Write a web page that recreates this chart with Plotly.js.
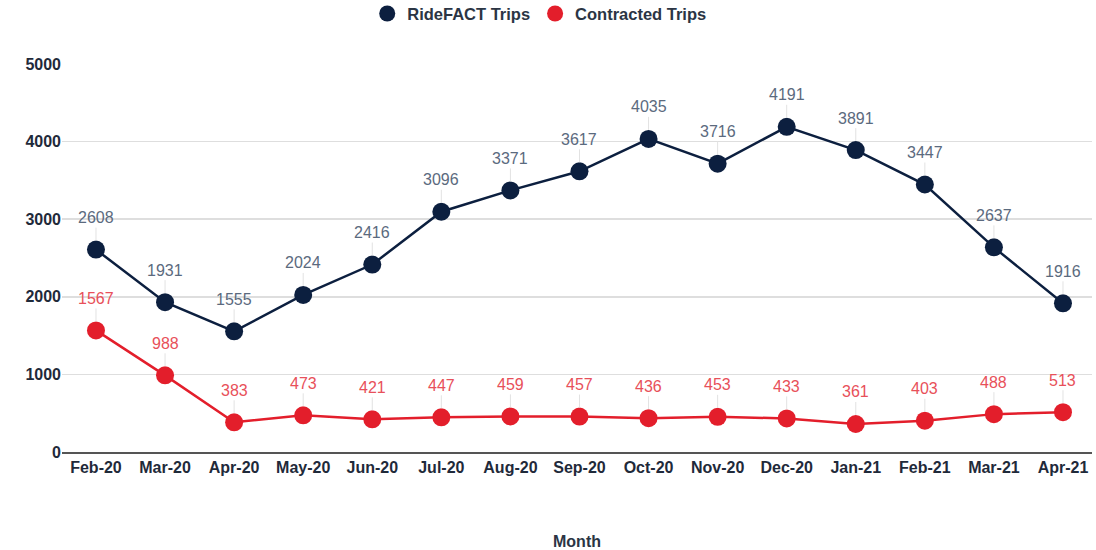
<!DOCTYPE html>
<html>
<head>
<meta charset="utf-8">
<script src="https://cdn.plot.ly/plotly-3.0.1.min.js"></script>
<style>html,body{margin:0;padding:0;background:#fff;}#chart{width:1096px;height:550px;}</style>
</head>
<body>
<div id="chart"></div>
<script>
const months = ["Feb-20","Mar-20","Apr-20","May-20","Jun-20","Jul-20","Aug-20","Sep-20","Oct-20","Nov-20","Dec-20","Jan-21","Feb-21","Mar-21","Apr-21"];
const rideFact = [2608,1931,1555,2024,2416,3096,3371,3617,4035,3716,4191,3891,3447,2637,1916];
const contracted = [1567,988,383,473,421,447,459,457,436,453,433,361,403,488,513];
const seriesNames = ["RideFACT Trips", "Contracted Trips"];
const yTicks = [0,1000,2000,3000,4000,5000];

const navy = "#0c1f3f";
const red = "#e31e2b";
const FONT = "Liberation Sans, Arial, sans-serif";

const traces = [
  {x: months, y: rideFact, name: seriesNames[0], type: "scatter", mode: "lines+markers", showlegend: false,
   line: {color: navy, width: 2.5}, marker: {color: navy, size: 18}},
  {x: months, y: contracted, name: seriesNames[1], type: "scatter", mode: "lines+markers", showlegend: false,
   line: {color: red, width: 2.5}, marker: {color: red, size: 18}},
  // legend-only entries (circle symbol only)
  {x: [null], y: [null], name: seriesNames[0], type: "scatter", mode: "markers",
   marker: {color: navy, size: 18}},
  {x: [null], y: [null], name: seriesNames[1], type: "scatter", mode: "markers",
   marker: {color: red, size: 18}}
];

const annotations = [];
function addLabels(vals, color) {
  vals.forEach((v, i) => {
    annotations.push({x: months[i], y: v, xref: "x", yref: "y", text: String(v),
      showarrow: true, arrowhead: 0, arrowwidth: 1, arrowcolor: "#e2e2e2",
      ax: 0, ay: -32, standoff: 9,
      font: {family: FONT, size: 16, color: color}});
  });
}
addLabels(rideFact, "#5b6a7e");
addLabels(contracted, "#e8505a");

const layout = {
  width: 1096, height: 550,
  margin: {l: 62, r: 4, t: 64, b: 98, autoexpand: false},
  paper_bgcolor: "#fff", plot_bgcolor: "#fff",
  showlegend: true,
  legend: {orientation: "h", xref: "container", yref: "container", x: 0.492, xanchor: "center",
    y: 0.975, yanchor: "middle", itemwidth: 30,
    font: {family: FONT, size: 16.5, color: "#2b3544", weight: "bold"}},
  xaxis: {type: "category", range: [-0.492, 14.42], showgrid: false, zeroline: false,
    showline: true, linecolor: "#555", linewidth: 2, ticks: "",
    tickfont: {family: FONT, size: 16, color: "#1f2a3a", weight: "bold"},
    title: {text: "Month", standoff: 70,
      font: {family: FONT, size: 16, color: "#2b3544", weight: "bold"}}},
  yaxis: {range: [0, 5000], tickvals: yTicks, showgrid: true, gridcolor: "#dedede", gridwidth: 1.5,
    zeroline: false, ticks: "", ticklen: 0,
    tickfont: {family: FONT, size: 16, color: "#1f2a3a", weight: "bold"}},
  annotations: annotations
};

Plotly.newPlot("chart", traces, layout, {displayModeBar: false, staticPlot: true});
</script>
</body>
</html>
